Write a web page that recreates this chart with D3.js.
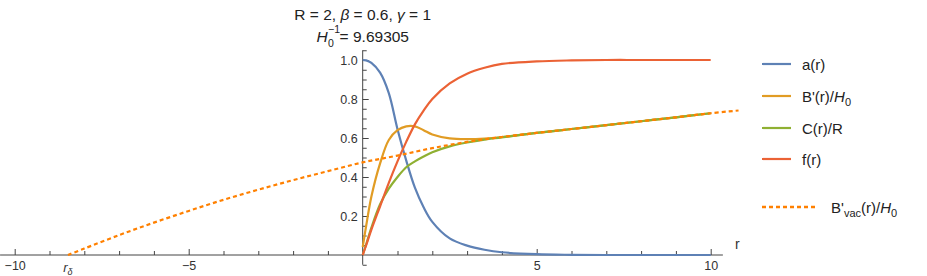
<!DOCTYPE html>
<html>
<head>
<meta charset="UTF-8">
<script src="https://d3js.org/d3.v7.min.js"></script>
<style>
    body { margin: 0; background: #fff; }
    text { font-family: "Liberation Sans", Arial, sans-serif; fill: #222; }
    .axis line, .axis path { stroke: #444; }
    .axis text { font-size: 12.5px; fill: #333; }
    .curve { fill: none; stroke-width: 2.2px; }
</style>
</head>
<body>
<svg id="chart" width="927" height="276"></svg>
<script>
    // sampled radius for the solid curves
    const rVals = [0, 0.1, 0.25, 0.5, 0.75, 1, 1.25, 1.5, 1.75, 2, 2.5, 3, 3.5, 4, 5, 6, 7, 8, 9, 10];
    const aVals = [1, 0.998, 0.985, 0.935, 0.83, 0.645, 0.485, 0.345, 0.245, 0.17, 0.085, 0.048, 0.027, 0.014, 0.004, 0.001, 0, 0, 0, 0];
    const bVals = [0.04, 0.15, 0.3, 0.47, 0.59, 0.64, 0.66, 0.66, 0.64, 0.618, 0.598, 0.594, 0.597, 0.605, 0.626, 0.646, 0.666, 0.686, 0.706, 0.727];
    const cVals = [0, 0.055, 0.14, 0.26, 0.34, 0.40, 0.45, 0.48, 0.505, 0.527, 0.557, 0.577, 0.592, 0.603, 0.626, 0.646, 0.666, 0.686, 0.706, 0.727];
    const fVals = [0, 0.05, 0.13, 0.25, 0.37, 0.48, 0.58, 0.67, 0.74, 0.80, 0.88, 0.93, 0.96, 0.98, 0.993, 0.998, 1, 1, 1, 1];

    // vacuum solution, starts at r_delta
    const rDelta = -8.47;
    const vacR = [rDelta, -8, -7, -6, -5, -4, -3, -2, -1, 0, 1, 2, 3, 4, 5, 6, 7, 8, 9, 10, 10.8];
    const vacVals = [0, 0.033, 0.102, 0.166, 0.226, 0.283, 0.335, 0.384, 0.43, 0.475, 0.51, 0.548, 0.58, 0.605, 0.626, 0.646, 0.666, 0.686, 0.706, 0.727, 0.741];

    const xMajor = [-10, -5, 5, 10];
    const xMinor = [-9, -8, -7, -6, -4, -3, -2, -1, 1, 2, 3, 4, 6, 7, 8, 9];
    const yMajor = [0.2, 0.4, 0.6, 0.8, 1.0];
    const yMinor = [-0.05, 0.05, 0.1, 0.15, 0.25, 0.3, 0.35, 0.45, 0.5, 0.55, 0.65, 0.7, 0.75, 0.85, 0.9, 0.95, 1.05];

    const series = [
        {name: "a", vals: aVals, color: "#5e81b5"},
        {name: "B", vals: bVals, color: "#e19c24"},
        {name: "C", vals: cVals, color: "#8fb032"},
        {name: "f", vals: fVals, color: "#eb6235"}
    ];
    const vacColor = "#ff8000";

    const svg = d3.select("#chart");
    const x = d3.scaleLinear().domain([-10, 10]).range([14.7, 710.7]);
    const y = d3.scaleLinear().domain([0, 1]).range([255, 60]);

    // axes
    const gx = svg.append("g").attr("class", "axis").attr("transform", "translate(0," + y(0) + ")");
    gx.append("line").attr("x1", x(-10.42)).attr("x2", x(10.35));
    gx.append("g").call(d3.axisBottom(x).tickValues(xMinor).tickSize(-4).tickFormat(""))
        .call(g => g.select(".domain").remove());
    gx.append("g").call(d3.axisBottom(x).tickValues(xMajor).tickSize(-6).tickPadding(6)
            .tickFormat(d => d < 0 ? "\u2212" + Math.abs(d) : d))
        .call(g => g.select(".domain").remove());
    gx.append("text").attr("x", x(10.35) + 12).attr("y", -6)
        .style("font-size", "14px").text("r");
    const rd = gx.append("text").attr("x", x(rDelta)).attr("y", 17).attr("text-anchor", "middle")
        .style("font-size", "13px");
    rd.append("tspan").style("font-style", "italic").text("r");
    rd.append("tspan").attr("dy", 3).style("font-size", "9px").style("font-style", "italic").text("\u03b4");

    const gy = svg.append("g").attr("class", "axis").attr("transform", "translate(" + x(0) + ",0)");
    gy.append("line").attr("y1", y(-0.05)).attr("y2", y(1.05));
    gy.append("g").call(d3.axisLeft(y).tickValues(yMinor).tickSize(-4).tickFormat(""))
        .call(g => g.select(".domain").remove());
    gy.append("g").call(d3.axisLeft(y).tickValues(yMajor).tickSize(-6).tickPadding(5).tickFormat(d3.format(".1f")))
        .call(g => g.select(".domain").remove());

    // curves
    const line = d3.line().x(d => x(d[0])).y(d => y(d[1])).curve(d3.curveCatmullRom);
    series.forEach(s => {
        svg.append("path").attr("class", "curve")
            .attr("stroke", s.color)
            .attr("d", line(rVals.map((r, i) => [r, s.vals[i]])));
    });
    svg.append("path").attr("class", "curve")
        .attr("stroke", vacColor).attr("stroke-width", 2.6).attr("stroke-dasharray", "4,3")
        .attr("d", line(vacR.map((r, i) => [r, vacVals[i]])));

    // title
    const t1 = svg.append("text").attr("x", x(0)).attr("y", 19.5).attr("text-anchor", "middle").style("font-size", "15.5px");
    t1.append("tspan").text("R = 2, ");
    t1.append("tspan").style("font-style", "italic").text("\u03b2");
    t1.append("tspan").text(" = 0.6, ");
    t1.append("tspan").style("font-style", "italic").text("\u03b3");
    t1.append("tspan").text(" = 1");

    const t2 = svg.append("g");
    const h = t2.append("text").attr("x", 0).attr("y", 42).style("font-size", "15.5px").style("font-style", "italic").text("H");
    const hw = h.node().getComputedTextLength();
    t2.append("text").attr("x", hw + 0.5).attr("y", 33).style("font-size", "10.5px").text("\u22121");
    t2.append("text").attr("x", hw + 0.5).attr("y", 46.5).style("font-size", "10.5px").text("0");
    const rest = t2.append("text").attr("x", hw + 12).attr("y", 42).style("font-size", "15.5px").text("= 9.69305");
    const totalW = hw + 12 + rest.node().getComputedTextLength();
    t2.attr("transform", "translate(" + (x(0) - totalW / 2) + ",0)");

    // legend
    const legend = svg.append("g");
    const legRows = [64, 96, 128, 159];
    const addH0 = (txt) => {
        txt.append("tspan").style("font-style", "italic").text("H");
        txt.append("tspan").attr("dy", 4).style("font-size", "11px").text("0");
    };
    series.forEach((s, i) => {
        legend.append("line").attr("x1", 762).attr("x2", 791)
            .attr("y1", legRows[i]).attr("y2", legRows[i])
            .attr("stroke", s.color).attr("stroke-width", 2.2);
        const t = legend.append("text").attr("x", 802).attr("y", legRows[i] + 5.5).style("font-size", "15px");
        if (s.name === "a") t.text("a(r)");
        if (s.name === "B") { t.append("tspan").text("B'(r)/"); addH0(t); }
        if (s.name === "C") t.text("C(r)/R");
        if (s.name === "f") t.text("f(r)");
    });
    legend.append("line").attr("x1", 762).attr("x2", 817).attr("y1", 207).attr("y2", 207)
        .attr("stroke", vacColor).attr("stroke-width", 2.6).attr("stroke-dasharray", "4,3");
    const tv = legend.append("text").attr("x", 831).attr("y", 212.5).style("font-size", "15px");
    tv.append("tspan").text("B'");
    tv.append("tspan").attr("dy", 4).style("font-size", "11px").text("vac");
    tv.append("tspan").attr("dy", -4).text("(r)/");
    addH0(tv);
</script>
</body>
</html>
